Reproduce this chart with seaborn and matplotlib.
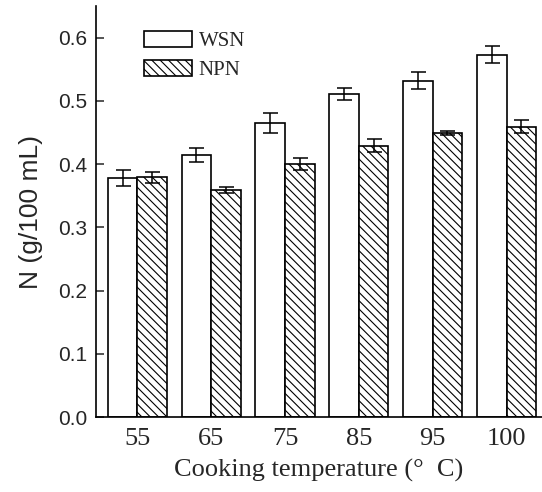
import matplotlib
matplotlib.use("Agg")
import matplotlib.pyplot as plt
import seaborn as sns
import pandas as pd
import numpy as np

temps = ["55", "65", "75", "85", "95", "100"]
wsn = [0.378, 0.415, 0.465, 0.511, 0.532, 0.573]
wsn_err = [0.012, 0.011, 0.016, 0.010, 0.013, 0.014]
npn = [0.379, 0.359, 0.400, 0.429, 0.449, 0.459]
npn_err = [0.009, 0.005, 0.0095, 0.010, 0.003, 0.010]
series = ["WSN", "NPN"]

df = pd.DataFrame({
    "temp": temps * 2,
    "value": wsn + npn,
    "series": [series[0]] * len(temps) + [series[1]] * len(temps),
})

sns.set_style("ticks")
plt.rcParams["hatch.linewidth"] = 0.8
plt.rcParams["hatch.color"] = "#333333"

fig = plt.figure(figsize=(5.42, 4.92), dpi=100)
ax = fig.add_axes([0.177, 0.152, 0.823, 0.836])

sns.barplot(data=df, x="temp", y="value", hue="series", order=temps,
            hue_order=series, palette=["white", "white"], edgecolor="black",
            linewidth=1.2, errorbar=None, width=0.8, ax=ax)

n = len(temps)
bars = [p for p in ax.patches if p.get_height() > 0][: 2 * n]
errs = wsn_err + npn_err
for i, p in enumerate(bars):
    if i >= n:
        p.set_hatch("\\\\\\\\")
    cx = p.get_x() + p.get_width() / 2
    ax.errorbar(cx, p.get_height(), yerr=errs[i], color="black",
                lw=1.1, capsize=5.4, capthick=1.1, fmt="none", zorder=5)

ax.set_ylim(0, 0.65)
ax.set_xlim(-0.56, 5.48)
ax.set_yticks([0.0, 0.1, 0.2, 0.3, 0.4, 0.5, 0.6])
ax.set_yticklabels(["0.0", "0.1", "0.2", "0.3", "0.4", "0.5", "0.6"],
                   family="Liberation Sans", fontsize=15)
ax.set_xticks(range(n))
ax.set_xticklabels(temps, family="Liberation Serif", fontsize=19)
ax.tick_params(axis="y", direction="in", length=6, width=1.1, pad=6)
ax.tick_params(axis="x", length=0, pad=8)
ax.set_ylabel("N (g/100 mL)", family="Liberation Sans", fontsize=19, labelpad=11)
ax.set_xlabel("Cooking temperature (°  C)", family="Liberation Serif",
              fontsize=19, labelpad=6)
for s in ["top", "right"]:
    ax.spines[s].set_visible(False)
for s in ["left", "bottom"]:
    ax.spines[s].set_linewidth(1.2)
    ax.spines[s].set_color("black")

handles = [bars[0], bars[n]]
leg = ax.legend(handles, series, loc="upper left", bbox_to_anchor=(0.09, 0.96),
                frameon=False, prop={"family": "Liberation Serif", "size": 15},
                handlelength=2.3, handleheight=0.85, labelspacing=0.4,
                handletextpad=0.3, borderaxespad=0)

fig.savefig("out.png", dpi=100)
